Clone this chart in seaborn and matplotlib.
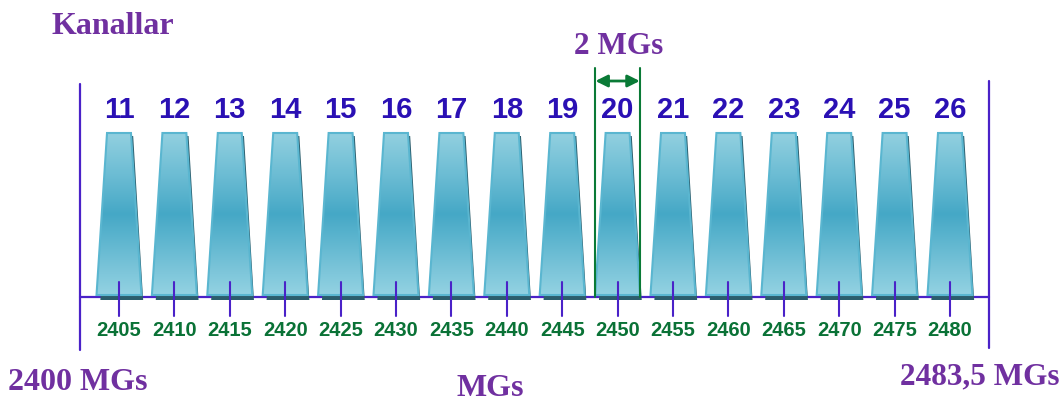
import numpy as np
import matplotlib
matplotlib.use("Agg")
import matplotlib.pyplot as plt
from matplotlib.patches import Polygon
from matplotlib.colors import LinearSegmentedColormap
import seaborn as sns

# Datos: canales IEEE 802.15.4 en la banda de 2,4 GHz
channels = [11, 12, 13, 14, 15, 16, 17, 18, 19, 20, 21, 22, 23, 24, 25, 26]
freqs = [2405, 2410, 2415, 2420, 2425, 2430, 2435, 2440, 2445, 2450,
         2455, 2460, 2465, 2470, 2475, 2480]
band_start = 2400
band_end = 2483.5
marked_channel = 20
marked_width = 2  # MGs

sns.set_theme(style="white")

purple = "#7030a0"
navy = "#2a10b4"
green = "#0a7236"
axis_col = "#4a22c8"

fig = plt.figure(figsize=(10.64, 4.03), dpi=100)
ax = fig.add_axes([0, 0, 1, 1])
xmin, xmax = 2394.26, 2490.29
ax.set_xlim(xmin, xmax)
ax.set_ylim(403, 0)
ax.axis("off")

cmap = LinearSegmentedColormap.from_list(
    "canal", ["#92d0e0", "#6dbdd4", "#45a8c6", "#6cbdd4", "#94d2e2"])
grad = np.linspace(0, 1, 256).reshape(-1, 1)

y_top, y_bot = 133, 295
top_hw, bot_hw = 1.08, 2.03

# Eje de frecuencias
left_x = 2401.5
ax.plot([left_x, band_end], [297, 297], color=axis_col, lw=1.6, zorder=1)
ax.plot([left_x, left_x], [84, 350], color=axis_col, lw=1.6, zorder=1)
ax.plot([band_end, band_end], [81, 348], color=axis_col, lw=1.6, zorder=1)

for ch, f in zip(channels, freqs):
    # sombra
    shadow = Polygon([(f - top_hw + 0.2, y_top + 3), (f + top_hw + 0.2, y_top + 3),
                      (f + bot_hw + 0.15, y_bot + 5), (f - bot_hw + 0.35, y_bot + 5)],
                     closed=True, facecolor="#2b5d6c", edgecolor="none", zorder=2)
    ax.add_patch(shadow)
    poly = Polygon([(f - top_hw, y_top), (f + top_hw, y_top),
                    (f + bot_hw, y_bot), (f - bot_hw, y_bot)],
                   closed=True, facecolor="none", edgecolor="#5ab6d0", lw=1.5, zorder=4)
    ax.add_patch(poly)
    im = ax.imshow(grad, cmap=cmap, aspect="auto",
                   extent=[f - bot_hw, f + bot_hw, y_bot, y_top], zorder=3)
    im.set_clip_path(poly)
    # marca central
    ax.plot([f, f], [282, 316], color=axis_col, lw=1.5, zorder=5)
    ax.text(f, 110, str(ch), ha="center", va="center", color=navy,
            fontsize=21, fontweight="bold", family="Liberation Sans")
    ax.text(f, 331, str(f), ha="center", va="center", color=green,
            fontsize=14.5, fontweight="bold", family="Liberation Sans")

ax.set_xlim(xmin, xmax)
ax.set_ylim(403, 0)

# Ancho de canal marcado
mf = freqs[channels.index(marked_channel)]
for xv in (mf - marked_width, mf + marked_width):
    ax.plot([xv, xv], [68, 297], color="#0a7a36", lw=1.5, zorder=6)
ax.annotate("", xy=(mf + marked_width, 81), xytext=(mf - marked_width, 81),
            arrowprops=dict(arrowstyle="<|-|>", color="#0a7a36", lw=2,
                            mutation_scale=18, shrinkA=0, shrinkB=0), zorder=6)
ax.text(mf + 0.1, 47, f"{marked_width} MGs", ha="center", va="center",
        color=purple, fontsize=22.5, fontweight="bold", family="Liberation Serif")

serif = dict(color=purple, fontweight="bold", family="Liberation Serif")
ax.text(2398.95, 27, "Kanallar", ha="left", va="center", fontsize=23, **serif)
ax.text(2395.0, 382, f"{band_start} MGs", ha="left", va="center", fontsize=23, **serif)
ax.text(band_end - 8.0, 377, f"{band_end:.1f}".replace(".", ",") + " MGs",
        ha="left", va="center", fontsize=22.5, **serif)
ax.text(2438.5, 388, "MGs", ha="center", va="center", fontsize=23, **serif)

fig.savefig("out.png", dpi=100)
